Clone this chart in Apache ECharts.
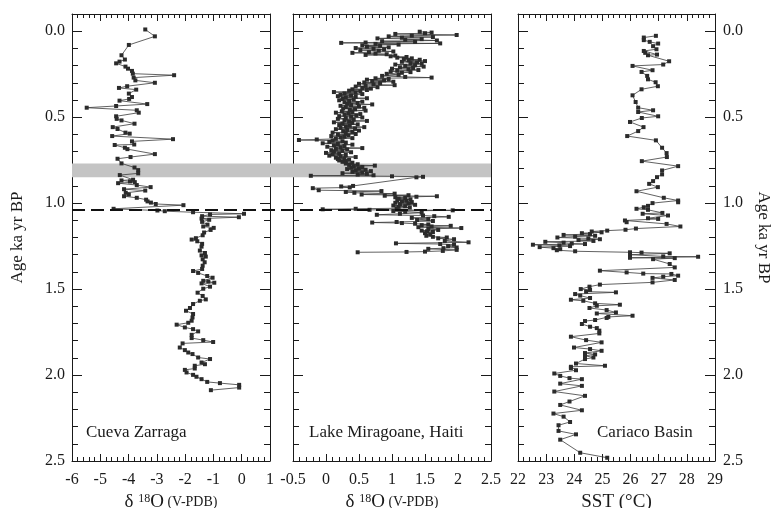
<!DOCTYPE html>
<html><head><meta charset="utf-8">
<script src="https://cdn.jsdelivr.net/npm/echarts@6/dist/echarts.min.js"></script>
<style>html,body{margin:0;padding:0;background:#fff}#c{width:772px;height:508px}</style>
</head><body><div id="c"></div>
<script>
// ---- data: [age (ka yr BP), value] ----
const zarraga = [[-0.01,-3.41],[0.03,-3.07],[0.08,-3.99],[0.14,-4.25],[0.165,-4.13],[0.177,-4.32],[0.187,-4.44],[0.206,-4.11],[0.218,-4.02],[0.231,-3.88],[0.247,-3.85],[0.256,-2.39],[0.27,-3.82],[0.286,-3.76],[0.30,-3.07],[0.32,-4.05],[0.33,-4.34],[0.34,-3.73],[0.363,-3.99],[0.383,-3.88],[0.394,-3.98],[0.404,-4.32],[0.424,-3.34],[0.435,-4.44],[0.445,-5.48],[0.46,-3.71],[0.474,-3.64],[0.495,-4.44],[0.51,-4.42],[0.519,-4.25],[0.538,-3.79],[0.558,-4.56],[0.569,-4.39],[0.59,-4.11],[0.596,-3.96],[0.61,-4.58],[0.628,-2.43],[0.641,-3.88],[0.659,-3.80],[0.662,-4.49],[0.678,-4.13],[0.686,-4.04],[0.715,-3.07],[0.732,-3.93],[0.742,-4.39],[0.769,-4.25],[0.793,-3.79],[0.808,-3.66],[0.827,-3.66],[0.837,-4.31],[0.864,-3.84],[0.868,-4.25],[0.874,-3.95],[0.878,-3.78],[0.884,-4.37],[0.895,-3.71],[0.907,-3.22],[0.919,-4.16],[0.927,-3.41],[0.94,-4.10],[0.95,-3.99],[0.96,-4.16],[0.969,-3.71],[0.98,-3.38],[0.99,-3.33],[0.997,-3.21],[1.005,-3.04],[1.012,-2.06],[1.033,-4.53],[1.043,-2.98],[1.047,-2.72],[1.053,-1.72],[1.062,0.08],[1.066,-1.12],[1.076,-1.40],[1.082,-0.10],[1.09,-1.42],[1.097,-1.15],[1.109,-1.40],[1.125,-1.21],[1.136,-1.36],[1.144,-0.99],[1.156,-1.10],[1.171,-1.33],[1.187,-1.38],[1.204,-1.62],[1.212,-1.77],[1.222,-1.57],[1.237,-1.40],[1.253,-1.42],[1.276,-1.48],[1.29,-1.30],[1.304,-1.42],[1.311,-1.27],[1.327,-1.38],[1.344,-1.31],[1.364,-1.38],[1.383,-1.40],[1.395,-1.72],[1.406,-1.54],[1.424,-1.22],[1.434,-1.03],[1.452,-1.36],[1.456,-1.18],[1.463,-0.97],[1.467,-1.42],[1.486,-1.12],[1.498,-1.36],[1.521,-1.56],[1.54,-1.38],[1.56,-1.27],[1.568,-1.48],[1.587,-1.72],[1.61,-1.83],[1.626,-1.97],[1.645,-1.72],[1.665,-1.74],[1.684,-1.77],[1.696,-1.89],[1.707,-2.30],[1.723,-2.01],[1.733,-1.72],[1.746,-1.54],[1.766,-1.77],[1.785,-1.77],[1.797,-1.36],[1.808,-1.01],[1.816,-2.09],[1.84,-2.19],[1.855,-2.01],[1.869,-1.89],[1.878,-1.74],[1.898,-1.54],[1.907,-1.12],[1.927,-1.42],[1.937,-1.30],[1.946,-1.66],[1.962,-1.66],[1.97,-2.01],[1.985,-1.95],[1.999,-1.72],[2.01,-1.60],[2.024,-1.42],[2.04,-1.22],[2.047,-0.77],[2.057,-0.09],[2.073,-0.09],[2.088,-1.09]];

const miragoane = [[0.003,1.42],[0.008,1.60],[0.012,1.50],[0.016,1.05],[0.022,1.98],[0.026,1.30],[0.030,0.95],[0.034,1.62],[0.038,1.15],[0.042,0.78],[0.046,1.45],[0.050,1.20],[0.054,1.68],[0.058,0.85],[0.062,1.35],[0.066,0.60],[0.068,0.23],[0.071,1.73],[0.074,0.75],[0.078,1.10],[0.082,0.55],
[0.085,0.82],[0.090,0.62],[0.094,0.95],[0.098,0.45],[0.102,0.72],[0.106,0.88],[0.110,0.52],[0.114,0.80],[0.118,1.02],[0.122,0.65],[0.126,0.40],[0.130,0.75],[0.134,0.92],[0.138,0.60],[0.142,1.05],
[0.146,0.98],[0.150,1.22],[0.154,1.08],[0.158,1.30],[0.162,1.18],[0.166,1.42],[0.170,1.25],[0.174,1.50],[0.178,1.15],[0.182,1.38],[0.186,1.28],[0.190,1.45],[0.194,1.05],[0.198,1.35],[0.202,1.20],[0.206,1.48],[0.210,1.12],[0.214,1.32],[0.218,1.00],[0.222,1.25],[0.226,1.40],[0.230,1.08],[0.234,0.98],[0.238,1.28],[0.242,1.15],
[0.248,0.92],[0.254,1.10],[0.260,0.85],[0.266,1.20],[0.270,1.60],[0.274,0.75],[0.278,0.95],[0.282,0.62],[0.286,0.88],[0.290,0.70],[0.294,1.02],[0.298,0.58],[0.302,0.82],[0.306,0.50],[0.310,0.72],[0.314,1.04],[0.318,0.60],[0.322,0.45],[0.326,0.78],[0.330,0.55],[0.334,0.68],[0.338,0.40],[0.342,0.62],[0.346,0.35],[0.350,0.52],[0.354,0.12],[0.358,0.45],
[0.362,0.28],[0.366,0.55],[0.370,0.22],[0.374,0.38],[0.378,0.18],[0.382,0.45],[0.386,0.30],[0.390,0.62],[0.394,0.25],[0.398,0.42],[0.402,0.20],[0.406,0.35],[0.410,0.55],[0.414,0.28],[0.418,0.48],[0.422,0.32],[0.426,0.70],[0.430,0.38],[0.434,0.22],[0.438,0.50],[0.442,0.30],[0.446,0.58],[0.450,0.26],[0.454,0.44],[0.458,0.36],[0.462,0.60],[0.466,0.24],[0.470,0.40],[0.474,0.15],[0.478,0.34],[0.482,0.52],[0.486,0.28],[0.490,0.46],[0.494,0.20],[0.498,0.38],
[0.502,0.55],[0.506,0.30],[0.510,0.18],[0.514,0.42],[0.518,0.28],[0.522,0.62],[0.526,0.35],[0.530,0.12],[0.534,0.40],[0.538,0.25],[0.542,0.48],[0.546,0.20],[0.550,0.36],[0.554,0.30],[0.558,0.58],[0.562,0.22],[0.566,0.44],[0.570,0.15],[0.574,0.32],[0.578,0.50],[0.582,0.26],[0.586,0.40],[0.590,0.10],[0.594,0.30],[0.598,0.45],[0.602,0.18],[0.606,0.34],[0.610,0.08],[0.614,0.28],[0.618,0.22],[0.622,0.40],[0.626,0.15],[0.630,-0.14],[0.633,-0.41],[0.636,0.10],
[0.640,0.25],[0.644,0.05],[0.648,0.30],[0.652,-0.05],[0.656,0.18],[0.660,0.40],[0.664,0.12],[0.668,0.28],[0.672,0.02],[0.676,0.22],[0.680,0.55],[0.684,0.15],[0.688,0.32],[0.692,0.08],[0.696,0.25],[0.700,0.12],[0.704,0.38],[0.708,0.00],[0.712,0.20],[0.716,0.10],[0.720,0.30],[0.724,0.05],[0.728,0.22],[0.732,0.45],[0.736,0.15],[0.740,0.28],[0.744,0.18],[0.748,0.35],[0.752,0.20],[0.756,0.30],[0.760,0.25],
[0.765,0.40],[0.770,0.30],[0.774,0.48],[0.778,0.35],[0.782,0.74],[0.786,0.42],[0.790,0.55],[0.794,0.38],[0.798,0.50],[0.802,0.32],[0.806,0.60],[0.810,0.45],[0.814,0.68],[0.818,0.40],[0.822,0.55],[0.826,0.25],[0.830,0.62],[0.834,0.48],[0.838,0.72],[0.841,-0.23],[0.844,1.00],[0.847,1.47],[0.850,1.37],
[0.900,0.41],[0.903,0.23],[0.909,0.36],[0.913,-0.20],[0.925,-0.11],[0.930,0.84],[0.935,0.30],[0.940,0.43],[0.945,1.04],[0.950,0.54],[0.954,1.25],[0.957,0.89],[0.960,1.68],[0.963,1.37],[0.966,1.05],[0.970,1.20],[0.974,1.10],[0.978,1.28],[0.982,1.08],[0.986,1.22],[0.990,1.15],[0.994,1.30],[0.998,1.05],[1.002,1.25],[1.006,1.12],[1.010,1.35],[1.014,1.02],[1.018,1.20],[1.022,1.10],[1.026,1.27],[1.030,1.07],[1.033,0.45],[1.036,-0.05],[1.039,0.66],[1.042,1.92],[1.046,1.02],
[1.050,1.20],[1.056,1.45],[1.062,1.12],[1.068,0.77],[1.072,1.47],[1.076,1.64],[1.080,1.86],[1.086,1.30],[1.092,1.55],[1.098,1.38],[1.104,1.62],[1.110,1.07],[1.113,0.70],[1.116,1.15],[1.120,1.35],[1.124,1.55],[1.128,1.45],[1.132,1.89],[1.136,1.60],[1.140,1.40],[1.145,2.05],[1.150,1.55],[1.156,1.70],[1.160,1.45],[1.164,1.53],[1.168,1.62],[1.175,1.50],[1.182,1.58],[1.190,1.52],[1.196,1.62],[1.200,1.83],[1.205,1.70],[1.210,1.94],[1.220,1.80],[1.228,2.16],[1.234,1.06],[1.238,1.73],[1.242,1.94],[1.250,1.85],[1.258,1.98],[1.262,1.78],[1.266,1.55],[1.272,1.98],[1.278,1.77],[1.282,1.50],[1.284,1.22],[1.286,0.48]];

const cariaco = [[0.027,26.90],[0.037,26.47],[0.052,26.47],[0.062,26.68],[0.072,26.98],[0.087,26.80],[0.105,26.92],[0.115,26.47],[0.126,26.52],[0.136,26.94],[0.14,26.62],[0.175,27.37],[0.194,27.16],[0.202,26.07],[0.227,26.78],[0.237,26.39],[0.26,26.59],[0.28,26.62],[0.297,26.89],[0.32,26.97],[0.338,26.39],[0.373,26.07],[0.412,26.18],[0.445,26.27],[0.46,26.80],[0.47,26.27],[0.495,26.98],[0.505,26.40],[0.528,25.98],[0.558,26.46],[0.581,26.27],[0.61,25.88],[0.635,26.90],[0.678,27.12],[0.709,27.28],[0.732,27.29],[0.756,26.40],[0.785,27.69],[0.81,27.12],[0.833,27.12],[0.849,26.94],[0.872,26.80],[0.888,26.66],[0.907,26.97],[0.931,26.21],[0.969,27.18],[0.985,27.69],[0.995,27.69],[1.0,26.78],[1.016,26.62],[1.024,26.47],[1.033,26.21],[1.039,26.62],[1.057,27.13],[1.062,26.43],[1.072,27.33],[1.088,26.62],[1.092,26.98],[1.101,25.80],[1.111,25.86],[1.121,27.28],[1.136,27.77],[1.148,26.19],[1.155,25.82],[1.16,25.17],[1.165,24.62],[1.17,24.97],[1.175,24.27],[1.18,24.56],[1.185,23.62],[1.19,24.74],[1.195,24.03],[1.20,23.40],[1.205,24.50],[1.21,24.91],[1.215,24.15],[1.22,24.68],[1.225,22.97],[1.23,23.62],[1.235,23.91],[1.238,24.38],[1.242,22.53],[1.246,23.47],[1.25,23.85],[1.256,22.77],[1.262,23.26],[1.268,23.50],[1.274,23.38],[1.28,24.03],[1.286,25.98],[1.288,26.39],[1.292,27.39],[1.30,25.98],[1.31,27.16],[1.312,28.40],[1.318,25.98],[1.32,27.57],[1.326,26.80],[1.354,27.39],[1.374,27.57],[1.393,24.91],[1.403,25.86],[1.41,26.45],[1.412,27.45],[1.422,27.69],[1.428,27.16],[1.435,26.78],[1.447,27.57],[1.461,26.78],[1.474,24.91],[1.486,24.54],[1.50,24.23],[1.505,24.56],[1.515,24.42],[1.519,25.48],[1.529,24.03],[1.538,24.21],[1.552,24.56],[1.562,23.88],[1.568,24.32],[1.583,24.74],[1.591,25.62],[1.597,24.80],[1.61,24.54],[1.622,25.15],[1.636,25.48],[1.642,24.80],[1.655,26.07],[1.662,25.21],[1.668,25.15],[1.68,24.74],[1.686,24.38],[1.703,24.27],[1.719,24.56],[1.727,24.80],[1.742,24.89],[1.758,24.89],[1.777,23.88],[1.797,24.42],[1.81,24.97],[1.84,23.99],[1.849,24.56],[1.859,24.97],[1.872,24.38],[1.88,24.74],[1.888,24.38],[1.898,24.68],[1.907,24.38],[1.933,24.06],[1.946,25.09],[1.952,23.88],[1.96,23.88],[1.972,24.06],[1.991,23.29],[2.005,23.50],[2.018,23.83],[2.024,24.27],[2.05,23.50],[2.063,24.27],[2.096,23.29],[2.121,24.38],[2.154,23.83],[2.174,23.50],[2.205,24.27],[2.224,23.26],[2.242,23.62],[2.273,23.85],[2.292,23.44],[2.325,23.44],[2.345,24.06],[2.376,23.50],[2.452,24.21],[2.481,25.17]];

const panelNames = ['Cueva Zarraga', 'Lake Miragoane, Haiti', 'Cariaco Basin'];
const xRanges = [[-6, 1, 1], [-0.5, 2.5, 0.5], [22, 29, 1]];   // min, max, interval
const ageRange = [-0.1, 2.5];
const bandAge = [0.77, 0.85];      // grey band
const boundaryAge = 1.043;          // dashed line

// ---- layout / style ----
const FONT = '"Liberation Serif","Times New Roman",serif';
const INK = '#1a1a1a';
const grids = [
  {left: 72, top: 14, width: 198, height: 447},
  {left: 293, top: 14, width: 198, height: 447},
  {left: 518, top: 14, width: 197, height: 447},
  {left: 72, top: 14, width: 419, height: 447}   // overlay for band + dashed line
];
const axisLine = {show: true, onZero: false, lineStyle: {color: INK, width: 1}};

const xAxis = [], yAxis = [], series = [];
const rich = {
  d: {fontSize: 19, fontFamily: FONT, color: INK},
  s: {fontSize: 12, fontFamily: FONT, color: INK, verticalAlign: 'top', padding: [0, 0, 6, 0]},
  o: {fontSize: 19, fontFamily: FONT, color: INK},
  p: {fontSize: 14, fontFamily: FONT, color: INK}
};
const xNames = ['{d|δ }{s|18}{o|O}{p| (V-PDB)}', '{d|δ }{s|18}{o|O}{p| (V-PDB)}', '{o|SST (°C)}'];

function ageLabel(v) {
  const k = v * 2;
  return (v >= 0 && Math.abs(k - Math.round(k)) < 1e-6) ? v.toFixed(1) : '';
}

for (let g = 0; g < 3; g++) {
  const [mn, mx, iv] = xRanges[g];
  const base = {
    type: 'value', gridIndex: g, min: mn, max: mx, interval: iv,
    axisLine, splitLine: {show: false}, minorSplitLine: {show: false},
    axisTick: {show: true, inside: true, length: 7, lineStyle: {color: INK}},
    minorTick: {show: true, splitNumber: 5, length: 4, lineStyle: {color: INK}}
  };
  xAxis.push(Object.assign({}, base, {
    position: 'bottom',
    axisLabel: {show: true, fontFamily: FONT, fontSize: 16, color: INK, margin: 11,
      showMinLabel: true, showMaxLabel: true},
    name: xNames[g], nameLocation: 'middle', nameGap: 27,
    nameTextStyle: {fontFamily: FONT, fontSize: 19, color: INK, rich}
  }));
  xAxis.push(Object.assign({}, base, {position: 'top', axisLabel: {show: false}}));

  const ybase = {
    type: 'value', gridIndex: g, min: ageRange[0], max: ageRange[1], splitNumber: 5, inverse: true,
    axisLine, splitLine: {show: false}, minorSplitLine: {show: false},
    axisTick: {show: true, inside: true, length: 10, lineStyle: {color: INK}},
    minorTick: {show: true, splitNumber: 5, length: 6, lineStyle: {color: INK}}
  };
  yAxis.push(Object.assign({}, ybase, {
    position: 'left',
    axisLabel: {show: g === 0, fontFamily: FONT, fontSize: 16, color: INK, margin: 7, formatter: ageLabel},
    name: g === 0 ? 'Age ka yr BP' : '', nameLocation: 'middle', nameGap: 46,
    nameTextStyle: {fontFamily: FONT, fontSize: 17, color: INK}
  }));
  yAxis.push(Object.assign({}, ybase, {
    position: 'right',
    axisLabel: {show: g === 2, fontFamily: FONT, fontSize: 16, color: INK, margin: 8, formatter: ageLabel},
    name: g === 2 ? 'Age ka yr BP' : '', nameLocation: 'middle', nameGap: 40, nameRotate: -90,
    nameTextStyle: {fontFamily: FONT, fontSize: 17, color: INK}
  }));
}
// overlay axes (hidden)
xAxis.push({type: 'value', gridIndex: 3, min: 0, max: 1, show: false});
yAxis.push({type: 'value', gridIndex: 3, min: ageRange[0], max: ageRange[1], inverse: true, show: false});

const sets = [zarraga, miragoane, cariaco];
sets.forEach((d, g) => {
  series.push({
    type: 'line', xAxisIndex: 2 * g, yAxisIndex: 2 * g, z: 3,
    data: d.map(p => [p[1], p[0]]),
    symbol: 'rect', symbolSize: 4, showSymbol: true, animation: false,
    itemStyle: {color: '#2b2b2b'},
    lineStyle: {color: '#3a3a3a', width: 0.8},
    emphasis: {disabled: true}
  });
});
series.push({
  type: 'line', xAxisIndex: 6, yAxisIndex: 6, z: 1, data: [], animation: false, silent: true,
  markArea: {silent: true, itemStyle: {color: '#c4c4c4'}, data: [[{yAxis: bandAge[0]}, {yAxis: bandAge[1]}]]},
  markLine: {silent: true, symbol: ['none', 'none'], label: {show: false},
    lineStyle: {color: '#111', width: 2, type: [13, 6]}, data: [{yAxis: boundaryAge}]}
});

const labelPos = [[86, 424], [309, 424], [597, 424]];
const graphic = panelNames.map((t, i) => ({
  type: 'text', left: labelPos[i][0], top: labelPos[i][1], z: 10,
  style: {text: t, font: '17px ' + FONT, fill: INK}
}));

const chart = echarts.init(document.getElementById('c'), null, {renderer: 'canvas'});
chart.setOption({
  animation: false,
  backgroundColor: '#fff',
  grid: grids.map(g => Object.assign({containLabel: false, outerBoundsMode: 'none'}, g)),
  xAxis, yAxis, series, graphic
});
</script></body></html>
